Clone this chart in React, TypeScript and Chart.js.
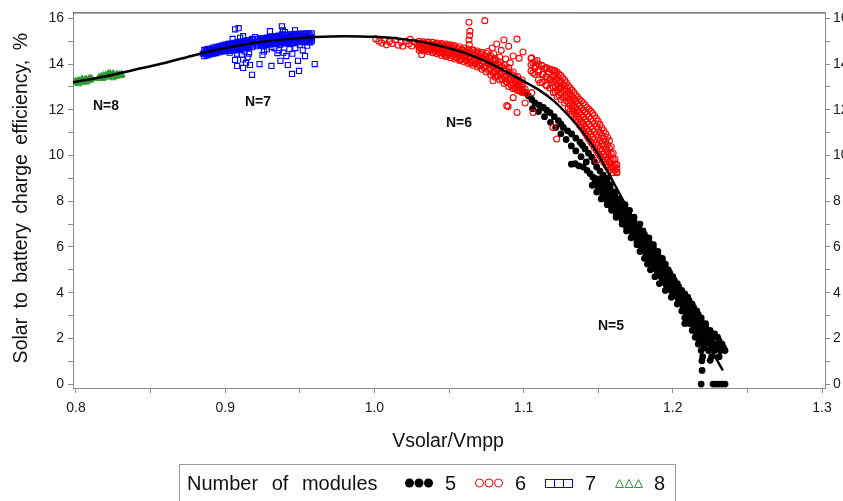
import React, { useEffect, useRef } from 'react';
import { Chart, registerables } from 'chart.js';

Chart.register(...registerables);

// ---- axis ticks ----
const xTickValues = [0.8, 0.85, 0.9, 0.95, 1.0, 1.05, 1.1, 1.15, 1.2, 1.25, 1.3];
const yTickValues = [0, 1, 2, 3, 4, 5, 6, 7, 8, 9, 10, 11, 12, 13, 14, 15, 16];
const xMin = 0.798;
const xMax = 1.302;
const yMin = -0.17;
const yMax = 16.26;

// ---- titles / labels ----
const xTitle = 'Vsolar/Vmpp';
const yTitle = 'Solar to battery charge efficiency, %';
const legendTitle = 'Number of modules';
const legendNames = ['5', '6', '7', '8'];
const groupLabels = ['N=8', 'N=7', 'N=6', 'N=5'];
const groupLabelX = [0.8201, 0.922, 1.0567, 1.1586];
const groupLabelY = [12.14, 12.32, 11.4, 2.52];

// ---- fitted curve ----
const fitCurve: [number, number][] = [
  [0.798, 13.2], [0.82, 13.47], [0.84, 13.76], [0.86, 14.06], [0.88, 14.4], [0.9, 14.7],
  [0.92, 14.93], [0.94, 15.08], [0.96, 15.18], [0.98, 15.22], [1.0, 15.19], [1.02, 15.08],
  [1.04, 14.86], [1.06, 14.5], [1.07, 14.25], [1.08, 13.95], [1.09, 13.6], [1.1, 13.25],
  [1.11, 12.88], [1.12, 12.4], [1.13, 11.75], [1.14, 11.0], [1.15, 10.05], [1.16, 8.85],
  [1.17, 7.65], [1.18, 6.5], [1.19, 5.35], [1.2, 4.2], [1.21, 3.15], [1.22, 2.15], [1.2335, 0.6],
];

// ---- N = 8 (green triangles): scattered points + dense columns [x, y...] ----
const n8Points: [number, number][] = [
  [0.799, 13.15], [0.8, 13.25], [0.801, 13.2], [0.802, 13.3], [0.803, 13.22], [0.804, 13.28],
  [0.805, 13.18], [0.806, 13.35], [0.807, 13.25], [0.808, 13.3], [0.809, 13.4], [0.81, 13.28],
  [0.811, 13.35], [0.804, 13.38], [0.802, 13.12],
  [0.815, 13.38], [0.817, 13.42], [0.818, 13.35], [0.819, 13.48], [0.82, 13.4], [0.821, 13.52],
  [0.822, 13.45], [0.823, 13.55], [0.824, 13.42], [0.825, 13.6], [0.826, 13.5], [0.827, 13.45],
  [0.828, 13.55], [0.829, 13.5], [0.83, 13.48], [0.831, 13.52], [0.822, 13.62], [0.825, 13.38],
];
const n8Columns: number[][] = [
  [0.7995, 13.27, 13.18], [0.801, 13.29, 13.16], [0.8025, 13.27, 13.2], [0.804, 13.32, 13.22],
  [0.8055, 13.3, 13.22], [0.807, 13.36, 13.2], [0.8085, 13.35, 13.25], [0.81, 13.4, 13.3],
  [0.8155, 13.45, 13.35], [0.817, 13.5, 13.38], [0.8185, 13.52, 13.42], [0.82, 13.55, 13.44],
  [0.8215, 13.47, 13.58], [0.823, 13.48, 13.6], [0.8245, 13.52, 13.58], [0.826, 13.55, 13.45],
  [0.8275, 13.58, 13.5], [0.829, 13.56, 13.47], [0.8305, 13.58, 13.5],
];

// ---- N = 7 (blue squares) ----
const n7Points: [number, number][] = [
  [0.885, 14.45], [0.887, 14.55], [0.888, 14.4], [0.89, 14.6], [0.891, 14.48], [0.893, 14.65],
  [0.894, 14.52], [0.896, 14.7], [0.897, 14.58], [0.899, 14.75], [0.9, 14.62], [0.901, 14.8],
  [0.902, 14.68], [0.904, 14.85], [0.905, 14.72], [0.906, 14.9], [0.907, 14.6], [0.908, 14.78],
  [0.909, 14.95], [0.91, 14.7], [0.911, 14.85], [0.912, 15.0], [0.913, 14.75], [0.914, 14.9],
  [0.915, 15.05], [0.916, 14.8], [0.917, 14.95], [0.918, 15.1], [0.903, 14.5], [0.908, 14.45],
  [0.911, 14.4], [0.913, 14.55], [0.915, 14.3], [0.912, 14.2], [0.914, 14.05], [0.916, 14.45],
  [0.91, 15.15], [0.905, 15.1],
  [0.9066, 14.18], [0.908, 13.92], [0.912, 13.83], [0.918, 13.53], [0.9166, 13.96], [0.923, 14.0],
  [0.925, 14.4], [0.931, 13.92], [0.937, 14.14], [0.935, 14.48], [0.942, 13.96], [0.9448, 13.57],
  [0.9495, 13.7], [0.9535, 14.35], [0.96, 14.0], [0.9488, 14.14], [0.9066, 15.52], [0.909, 15.57],
  [0.912, 15.22], [0.938, 15.65], [0.9387, 15.48], [0.9468, 15.48], [0.93, 15.44], [0.92, 15.18],
  [0.922, 14.85], [0.923, 15.0], [0.924, 14.9], [0.925, 15.05], [0.926, 14.8], [0.927, 14.95],
  [0.928, 15.1], [0.929, 14.88], [0.93, 15.02], [0.931, 14.75], [0.932, 15.08], [0.933, 14.92],
  [0.934, 15.15], [0.935, 14.98], [0.936, 15.2], [0.937, 14.85], [0.938, 15.3], [0.939, 15.05],
  [0.94, 15.4], [0.941, 14.95], [0.942, 15.15], [0.943, 15.0], [0.944, 15.25], [0.945, 14.9],
  [0.946, 15.1], [0.947, 15.3], [0.948, 15.0], [0.949, 15.15], [0.95, 15.05], [0.951, 15.25],
  [0.952, 15.1], [0.953, 14.95], [0.954, 15.2], [0.955, 15.05], [0.956, 15.15], [0.957, 14.95],
  [0.958, 15.1], [0.933, 14.7], [0.936, 14.6], [0.939, 14.5], [0.941, 14.35], [0.943, 14.65],
  [0.945, 14.45], [0.947, 14.7], [0.95, 14.85], [0.952, 14.6], [0.955, 14.8], [0.926, 14.55],
  [0.928, 14.65],
];
const n7Columns: number[][] = [
  [0.886, 14.62, 14.48, 14.35], [0.888, 14.65, 14.52, 14.38], [0.89, 14.68, 14.55, 14.42],
  [0.892, 14.72, 14.58, 14.45], [0.894, 14.75, 14.62, 14.48], [0.896, 14.78, 14.65, 14.52],
  [0.898, 14.82, 14.68, 14.55], [0.9, 14.85, 14.7, 14.56], [0.902, 14.88, 14.73, 14.58],
  [0.904, 14.9, 14.76, 14.6], [0.906, 14.93, 14.78, 14.62], [0.908, 14.95, 14.8, 14.64],
  [0.91, 14.98, 14.83, 14.66], [0.912, 15.0, 14.85, 14.68], [0.914, 15.02, 14.87, 14.7],
  [0.916, 15.04, 14.89, 14.72], [0.918, 15.06, 14.91, 14.74], [0.922, 15.1, 14.95, 14.78],
  [0.924, 15.12, 14.97, 14.8], [0.926, 15.14, 14.98, 14.82], [0.928, 15.16, 15.0, 14.84],
  [0.93, 15.18, 15.02, 14.86], [0.932, 15.2, 15.04, 14.88], [0.934, 15.22, 15.05, 14.88],
  [0.936, 15.24, 15.06, 14.9], [0.938, 15.26, 15.07, 14.9], [0.94, 15.28, 15.08, 14.92],
  [0.942, 15.28, 15.1, 14.92], [0.944, 15.3, 15.11, 14.94], [0.946, 15.3, 15.12, 14.95],
  [0.948, 15.32, 15.13, 14.96], [0.95, 15.32, 15.14, 14.97], [0.952, 15.33, 15.15, 14.98],
  [0.954, 15.33, 15.16, 14.98], [0.956, 15.34, 15.16, 15.0], [0.958, 15.34, 15.17, 15.0],
  [0.887, 14.57, 14.43], [0.889, 14.6, 14.47], [0.891, 14.63, 14.5], [0.893, 14.67, 14.53],
  [0.895, 14.7, 14.57], [0.897, 14.73, 14.6], [0.899, 14.77, 14.62], [0.901, 14.8, 14.64],
  [0.903, 14.82, 14.66], [0.905, 14.85, 14.69], [0.907, 14.87, 14.71], [0.909, 14.9, 14.73],
  [0.911, 14.92, 14.75], [0.913, 14.94, 14.77], [0.915, 14.96, 14.79], [0.917, 14.98, 14.81],
  [0.923, 15.04, 14.87], [0.925, 15.06, 14.9], [0.927, 15.08, 14.92], [0.929, 15.1, 14.93],
  [0.931, 15.12, 14.95], [0.933, 15.14, 14.96], [0.935, 15.15, 14.97], [0.937, 15.17, 14.98],
  [0.939, 15.18, 15.0], [0.941, 15.19, 15.0], [0.943, 15.2, 15.02], [0.945, 15.21, 15.03],
  [0.947, 15.22, 15.04], [0.949, 15.23, 15.05], [0.951, 15.24, 15.06], [0.953, 15.25, 15.07],
  [0.955, 15.25, 15.08], [0.957, 15.26, 15.08],
];

// ---- N = 6 (red circles) ----
const n6Points: [number, number][] = [
  [1.001, 15.1], [1.003, 15.0], [1.005, 14.92], [1.007, 15.05], [1.008, 14.84], [1.01, 14.98],
  [1.012, 14.9], [1.014, 15.05], [1.016, 14.82], [1.018, 14.95], [1.019, 14.78], [1.021, 15.0],
  [1.023, 14.88], [1.024, 15.08], [1.025, 14.79], [1.027, 14.95], [1.029, 14.86], [1.03, 15.0],
  [1.031, 14.7], [1.0317, 14.41], [1.033, 14.9], [1.035, 14.78], [1.036, 14.95], [1.038, 14.68],
  [1.039, 14.85], [1.041, 14.9], [1.042, 14.6], [1.043, 14.78], [1.045, 14.88], [1.046, 14.5],
  [1.047, 14.7], [1.048, 14.35], [1.049, 14.82], [1.05, 14.58], [1.051, 14.72], [1.052, 14.45],
  [1.053, 14.8], [1.054, 14.6], [1.055, 14.3], [1.056, 14.68], [1.057, 14.5], [1.058, 14.2],
  [1.059, 14.62], [1.06, 14.4], [1.061, 14.55], [1.062, 14.15], [1.063, 14.48], [1.064, 14.3],
  [1.065, 14.05], [1.066, 14.58], [1.067, 14.38], [1.068, 14.2], [1.069, 14.5], [1.07, 14.0],
  [1.071, 14.3], [1.072, 14.45], [1.073, 14.12], [1.074, 13.9], [1.075, 14.35], [1.076, 14.05],
  [1.077, 13.8], [1.078, 14.25], [1.079, 13.95], [1.08, 13.65], [1.081, 14.15], [1.082, 13.75],
  [1.083, 13.5], [1.084, 13.95], [1.085, 13.6], [1.086, 13.35], [1.087, 13.8], [1.088, 13.45],
  [1.089, 13.2], [1.09, 13.65], [1.091, 13.3], [1.092, 13.05], [1.093, 13.5], [1.094, 12.95],
  [1.095, 13.2], [1.096, 12.85], [1.097, 13.1], [1.098, 12.8], [1.099, 13.0], [1.1, 12.75],
  [1.101, 12.9], [1.102, 12.72],
  [1.0634, 15.83], [1.074, 15.9], [1.064, 15.44], [1.0634, 15.05], [1.0638, 15.25], [1.0636, 14.85],
  [1.0868, 15.05], [1.0956, 15.09], [1.0996, 14.53], [1.079, 14.7], [1.082, 14.88], [1.09, 14.78],
  [1.085, 14.6], [1.093, 14.35], [1.088, 14.22], [1.076, 14.55], [1.08, 14.45], [1.084, 14.3],
  [1.091, 14.05], [1.097, 14.25],
  [1.0896, 12.14], [1.0956, 11.88], [1.0795, 13.27], [1.093, 12.53], [1.101, 12.3], [1.0887, 12.18],
  [1.1063, 11.88], [1.1197, 11.23], [1.1222, 10.72], [1.0954, 13.33], [1.1054, 12.75], [1.1244, 12.97],
  [1.1054, 14.27], [1.1063, 14.05], [1.1063, 13.62], [1.108, 13.9], [1.109, 14.15], [1.11, 13.75],
  [1.111, 13.18], [1.112, 13.95], [1.113, 13.55], [1.114, 13.8], [1.1155, 13.83], [1.1155, 13.05],
  [1.116, 13.4], [1.117, 13.65], [1.118, 13.3], [1.119, 13.75], [1.12, 13.5], [1.121, 13.7],
  [1.1624, 9.28], [1.161, 9.5], [1.149, 9.78],
];
// dense columns [x, y...] of the main N=6 band and the upper-right clump
const n6Columns: number[][] = [
  [1.03, 14.98, 14.85, 14.72, 14.6], [1.033, 14.97, 14.83, 14.7, 14.57], [1.036, 14.96, 14.82, 14.68, 14.55],
  [1.039, 14.95, 14.8, 14.65, 14.5], [1.042, 14.92, 14.76, 14.6, 14.45], [1.045, 14.9, 14.73, 14.55, 14.38],
  [1.048, 14.88, 14.7, 14.5, 14.33], [1.051, 14.84, 14.66, 14.47, 14.28], [1.054, 14.8, 14.62, 14.42, 14.22],
  [1.057, 14.76, 14.56, 14.36, 14.16], [1.06, 14.7, 14.5, 14.3, 14.1], [1.063, 14.66, 14.45, 14.24, 14.03],
  [1.066, 14.62, 14.4, 14.17, 13.95], [1.069, 14.57, 14.35, 14.1, 13.87], [1.072, 14.52, 14.28, 14.02, 13.77],
  [1.075, 14.46, 14.2, 13.92, 13.65], [1.078, 14.36, 14.1, 13.82, 13.53], [1.081, 14.24, 13.98, 13.7, 13.42],
  [1.084, 14.1, 13.84, 13.57, 13.3], [1.087, 13.96, 13.7, 13.43, 13.15], [1.09, 13.85, 13.58, 13.3, 13.02],
  [1.093, 13.65, 13.4, 13.15, 12.92], [1.096, 13.45, 13.22, 13.0, 12.84], [1.099, 13.3, 13.08, 12.9, 12.76],
  [1.0315, 14.9, 14.77, 14.64], [1.0345, 14.9, 14.76, 14.62], [1.0375, 14.88, 14.74, 14.6],
  [1.0405, 14.86, 14.7, 14.55], [1.0435, 14.83, 14.66, 14.5], [1.0465, 14.8, 14.62, 14.44],
  [1.0495, 14.77, 14.58, 14.4], [1.0525, 14.73, 14.54, 14.35], [1.0555, 14.68, 14.48, 14.28],
  [1.0585, 14.62, 14.42, 14.22], [1.0615, 14.57, 14.37, 14.16], [1.0645, 14.53, 14.3, 14.08],
  [1.0675, 14.48, 14.25, 14.02], [1.0705, 14.43, 14.18, 13.93], [1.0735, 14.36, 14.1, 13.84],
  [1.0765, 14.28, 14.0, 13.72], [1.0795, 14.16, 13.88, 13.6], [1.0825, 14.03, 13.76, 13.48],
  [1.0855, 13.9, 13.62, 13.35], [1.0885, 13.76, 13.5, 13.22], [1.0915, 13.6, 13.35, 13.1],
  [1.0945, 13.42, 13.18, 12.95], [1.0975, 13.25, 13.04, 12.85],
  [1.105, 14.25, 13.98, 13.7], [1.1075, 14.1, 13.82, 13.55], [1.11, 14.0, 13.65, 13.3],
  [1.1125, 13.92, 13.55, 13.2], [1.115, 13.85, 13.45, 13.08], [1.1175, 13.78, 13.35, 12.95],
  [1.12, 13.72, 13.45, 13.22, 12.98, 12.75], [1.1225, 13.65, 13.38, 13.12, 12.85, 12.58],
  [1.125, 13.5, 13.25, 12.98, 12.72, 12.45], [1.1275, 13.3, 13.05, 12.8, 12.55, 12.3],
  [1.13, 13.05, 12.8, 12.55, 12.3, 12.05], [1.1325, 12.85, 12.6, 12.32, 12.06, 11.8],
  [1.135, 12.65, 12.38, 12.1, 11.82, 11.55], [1.1375, 12.45, 12.17, 11.88, 11.6, 11.32],
  [1.14, 12.3, 12.0, 11.7, 11.4, 11.1], [1.1425, 12.1, 11.8, 11.48, 11.16, 10.85],
  [1.145, 11.95, 11.6, 11.27, 10.93, 10.6], [1.1475, 11.75, 11.4, 11.05, 10.7, 10.35],
  [1.15, 11.5, 11.15, 10.8, 10.45, 10.1], [1.1525, 11.2, 10.86, 10.52, 10.18, 9.85],
  [1.155, 10.95, 10.6, 10.27, 9.93, 9.6], [1.1575, 10.65, 10.32, 10.0, 9.68, 9.35],
  [1.16, 10.1, 9.82, 9.54, 9.25], [1.1625, 9.6, 9.42, 9.25],
  [1.12125, 13.6, 13.32, 13.05, 12.78], [1.12375, 13.55, 13.25, 12.95, 12.65],
  [1.12625, 13.4, 13.12, 12.85, 12.55], [1.12875, 13.18, 12.92, 12.66, 12.4],
  [1.13125, 12.95, 12.7, 12.44, 12.18, 11.95], [1.13375, 12.75, 12.48, 12.2, 11.93, 11.68],
  [1.13625, 12.55, 12.27, 11.98, 11.7, 11.45], [1.13875, 12.38, 12.08, 11.78, 11.48, 11.22],
  [1.14125, 12.2, 11.9, 11.58, 11.27, 10.98], [1.14375, 12.02, 11.7, 11.37, 11.05, 10.72],
  [1.14625, 11.85, 11.5, 11.15, 10.8, 10.48], [1.14875, 11.62, 11.27, 10.92, 10.57, 10.22],
  [1.15125, 11.35, 11.0, 10.65, 10.3, 9.98], [1.15375, 11.08, 10.73, 10.4, 10.05, 9.72],
  [1.15625, 10.8, 10.46, 10.13, 9.8, 9.48], [1.15875, 10.38, 10.08, 9.78, 9.48],
  [1.16125, 9.85, 9.6, 9.35],
];

// ---- N = 5 (black dots) ----
const n5Points: [number, number][] = [
  [1.1005, 12.78], [1.1032, 12.61], [1.1055, 12.45], [1.1076, 12.3], [1.1105, 12.2], [1.1132, 12.1],
  [1.1155, 11.98], [1.1177, 11.88], [1.1205, 11.7], [1.1233, 11.52], [1.125, 11.38], [1.1266, 11.23],
  [1.1295, 11.08], [1.1322, 10.94], [1.135, 10.76], [1.1378, 10.58], [1.1395, 10.44], [1.1412, 10.29],
  [1.1435, 10.1], [1.1456, 9.93], [1.1475, 9.72], [1.149, 9.5], [1.1512, 9.32], [1.1534, 9.14],
  [1.106, 12.05], [1.11, 11.92], [1.114, 11.7], [1.118, 11.45], [1.1215, 11.22], [1.125, 10.95],
  [1.1285, 10.7], [1.132, 10.42], [1.135, 10.2], [1.1385, 9.95], [1.142, 9.72],
  [1.132, 9.62], [1.1345, 9.64], [1.137, 9.55], [1.14, 9.5], [1.1425, 9.35], [1.1445, 9.21], [1.1465, 9.05],
  [1.2195, 1.02], [1.225, 1.04], [1.2196, 0.6],
  [1.219, 0.0], [1.227, 0.0], [1.229, 0.0], [1.231, 0.0], [1.233, 0.0], [1.235, 0.0],
];
// dense rows [y, x...] of the descending N=5 band
const n5Rows: number[][] = [
  [9.0, 1.148, 1.152, 1.156], [8.85, 1.148, 1.152, 1.156], [8.7, 1.146, 1.15, 1.154, 1.158],
  [8.55, 1.15, 1.154, 1.158], [8.4, 1.149, 1.153, 1.157, 1.161], [8.25, 1.153, 1.157, 1.161],
  [8.1, 1.152, 1.156, 1.16, 1.164], [7.98, 1.156, 1.16, 1.164], [7.85, 1.156, 1.16, 1.164, 1.168],
  [7.72, 1.159, 1.163, 1.167], [7.6, 1.159, 1.163, 1.167, 1.171], [7.45, 1.162, 1.166, 1.17],
  [7.3, 1.162, 1.166, 1.17, 1.174], [7.15, 1.166, 1.17, 1.174], [7.0, 1.166, 1.17, 1.174, 1.178],
  [6.85, 1.169, 1.173, 1.177], [6.7, 1.169, 1.173, 1.177, 1.18], [6.55, 1.173, 1.177, 1.181],
  [6.4, 1.172, 1.176, 1.18, 1.184], [6.25, 1.176, 1.18, 1.184], [6.1, 1.176, 1.18, 1.184, 1.187],
  [5.95, 1.179, 1.183, 1.187], [5.8, 1.178, 1.182, 1.186, 1.19], [5.65, 1.182, 1.186, 1.19],
  [5.5, 1.181, 1.185, 1.189, 1.193], [5.38, 1.185, 1.189, 1.193], [5.25, 1.183, 1.187, 1.191, 1.195],
  [5.12, 1.187, 1.191, 1.195], [5.0, 1.185, 1.189, 1.193, 1.197], [4.85, 1.19, 1.194, 1.198],
  [4.7, 1.188, 1.192, 1.196, 1.2], [4.55, 1.193, 1.197, 1.201], [4.4, 1.191, 1.195, 1.199, 1.203],
  [4.25, 1.196, 1.2, 1.204], [4.1, 1.195, 1.199, 1.203, 1.206], [3.95, 1.2, 1.204, 1.208],
  [3.8, 1.199, 1.203, 1.207, 1.21], [3.65, 1.204, 1.208, 1.211], [3.5, 1.203, 1.207, 1.21, 1.213],
  [3.35, 1.207, 1.211, 1.214], [3.2, 1.206, 1.21, 1.213, 1.216], [3.05, 1.209, 1.213, 1.217],
  [2.9, 1.208, 1.212, 1.216, 1.219], [2.78, 1.211, 1.215, 1.219], [2.65, 1.208, 1.211, 1.214, 1.218, 1.222],
  [2.5, 1.214, 1.218, 1.222], [2.35, 1.213, 1.217, 1.221, 1.225], [2.2, 1.216, 1.22, 1.224, 1.228],
  [2.05, 1.215, 1.219, 1.223, 1.227, 1.23], [1.9, 1.218, 1.222, 1.226, 1.231],
  [1.75, 1.217, 1.221, 1.225, 1.229, 1.233], [1.6, 1.221, 1.226, 1.23, 1.234],
  [1.47, 1.219, 1.224, 1.228, 1.232, 1.235], [1.2, 1.22, 1.226, 1.231],
];

const FONT = '"Liberation Sans", Arial, Helvetica, sans-serif';
const AXIS_GRAY = '#8c8c8c';
const RED = '#ff0000';
const BLUE = '#0000ff';
const GREEN = '#2f9a2f';

const toXY = (pts: [number, number][]) => pts.map(([x, y]) => ({ x, y }));
const fromColumns = (cols: number[][]) =>
  cols.flatMap(([x, ...ys]) => ys.map((y) => ({ x, y })));
const fromRows = (rows: number[][]) =>
  rows.flatMap(([y, ...xs]) => xs.map((x) => ({ x, y })));

const decorPlugin = {
  id: 'decor',
  afterDraw(chart: any) {
    const { ctx, chartArea, scales } = chart;
    const { left, right, top, bottom } = chartArea;
    ctx.save();
    ctx.strokeStyle = '#333';
    ctx.lineWidth = 1;
    ctx.beginPath();
    ctx.moveTo(left, top + 0.5);
    ctx.lineTo(right, top + 0.5);
    ctx.stroke();

    ctx.fillStyle = '#111';
    ctx.font = `19.5px ${FONT}`;
    ctx.textAlign = 'center';
    ctx.textBaseline = 'middle';
    ctx.fillText(xTitle, (left + right) / 2 - 1, 442);

    ctx.save();
    ctx.translate(22, (top + bottom) / 2 - 2);
    ctx.rotate(-Math.PI / 2);
    try { (ctx as any).wordSpacing = '4px'; } catch (e) { /* ignore */ }
    ctx.font = `19.5px ${FONT}`;
    ctx.fillText(yTitle, 0, 0);
    ctx.restore();

    ctx.font = `bold 14px ${FONT}`;
    ctx.fillStyle = '#111';
    groupLabels.forEach((t, i) => {
      const px = scales.x.getPixelForValue(groupLabelX[i]);
      const py = scales.y.getPixelForValue(groupLabelY[i]);
      ctx.fillText(t, px, py);
    });
    ctx.restore();
  },
};

function LegendMarker({ kind }: { kind: number }) {
  const w = 29;
  const h = 10;
  if (kind === 0) {
    return (
      <svg width={w} height={h} style={{ display: 'block' }}>
        {[4.5, 14, 23.5].map((cx) => (
          <circle key={cx} cx={cx} cy={5} r={4.5} fill="#000" />
        ))}
      </svg>
    );
  }
  if (kind === 1) {
    return (
      <svg width={w} height={h} style={{ display: 'block' }}>
        {[4.5, 14, 23.5].map((cx) => (
          <circle key={cx} cx={cx} cy={5} r={4} fill="none" stroke={RED} strokeWidth={1} />
        ))}
      </svg>
    );
  }
  if (kind === 2) {
    return (
      <svg width={w} height={h} style={{ display: 'block' }}>
        {[0.5, 9.5, 18.5].map((x) => (
          <rect key={x} x={x} y={1.5} width={9} height={8} fill="none" stroke={BLUE} strokeWidth={1} />
        ))}
      </svg>
    );
  }
  return (
    <svg width={w} height={h} style={{ display: 'block' }}>
      {[0.5, 10, 19.5].map((x) => (
        <polygon key={x} points={`${x},9.5 ${x + 8},9.5 ${x + 4},1.5`} fill="none" stroke={GREEN} strokeWidth={1} />
      ))}
    </svg>
  );
}

export default function App() {
  const canvasRef = useRef<HTMLCanvasElement | null>(null);

  useEffect(() => {
    if (!canvasRef.current) return;
    const tickFont = { family: FONT, size: 14 };
    const yTickCb = (v: any) => (Number(v) % 2 === 0 ? String(v) : '');
    const chart = new Chart(canvasRef.current, {
      type: 'scatter',
      data: {
        datasets: [
          {
            label: 'fit',
            data: toXY(fitCurve),
            showLine: true,
            borderColor: '#000',
            borderWidth: 2.5,
            pointRadius: 0,
            cubicInterpolationMode: 'monotone',
            fill: false,
            order: 0,
          } as any,
          {
            label: legendNames[1],
            data: [...toXY(n6Points), ...fromColumns(n6Columns)],
            pointStyle: 'circle',
            pointRadius: 3,
            backgroundColor: 'rgba(0,0,0,0)',
            borderColor: RED,
            borderWidth: 1.1,
            order: 1,
          },
          {
            label: legendNames[0],
            data: [...toXY(n5Points), ...fromRows(n5Rows)],
            pointStyle: 'circle',
            pointRadius: 3.4,
            backgroundColor: '#000',
            borderColor: '#000',
            borderWidth: 0,
            order: 2,
          },
          {
            label: legendNames[2],
            data: [...toXY(n7Points), ...fromColumns(n7Columns)],
            pointStyle: 'rect',
            pointRadius: 3.6,
            backgroundColor: 'rgba(0,0,0,0)',
            borderColor: BLUE,
            borderWidth: 1.1,
            order: 3,
          },
          {
            label: legendNames[3],
            data: [...toXY(n8Points), ...fromColumns(n8Columns)],
            pointStyle: 'triangle',
            pointRadius: 3,
            backgroundColor: 'rgba(0,0,0,0)',
            borderColor: GREEN,
            borderWidth: 1.1,
            order: 4,
          },
        ],
      },
      options: {
        responsive: false,
        devicePixelRatio: 1,
        animation: false,
        events: [],
        layout: { padding: { top: 9, left: 0, right: 0, bottom: 0 } },
        plugins: {
          legend: { display: false },
          tooltip: { enabled: false },
          title: { display: false },
        },
        scales: {
          x: {
            type: 'linear',
            position: 'bottom',
            min: xMin,
            max: xMax,
            afterFit: (s: any) => { s.height = 113; },
            afterBuildTicks: (s: any) => { s.ticks = xTickValues.map((v) => ({ value: v })); },
            ticks: {
              font: tickFont,
              color: '#1a1a1a',
              padding: 7,
              maxRotation: 0,
              autoSkip: false,
              callback: (v: any) => {
                const n = Number(v);
                return Math.abs(n * 10 - Math.round(n * 10)) < 1e-6 ? n.toFixed(1) : '';
              },
            },
            grid: { drawOnChartArea: false, drawTicks: true, tickLength: 5, color: AXIS_GRAY },
            border: { display: true, color: AXIS_GRAY, width: 1 },
          },
          y: {
            type: 'linear',
            position: 'left',
            min: yMin,
            max: yMax,
            afterFit: (s: any) => { s.width = 73; },
            afterBuildTicks: (s: any) => { s.ticks = yTickValues.map((v) => ({ value: v })); },
            ticks: { font: tickFont, color: '#1a1a1a', padding: 4, autoSkip: false, callback: yTickCb },
            grid: { drawOnChartArea: false, drawTicks: true, tickLength: 5, color: AXIS_GRAY },
            border: { display: true, color: AXIS_GRAY, width: 1 },
          },
          y2: {
            type: 'linear',
            position: 'right',
            min: yMin,
            max: yMax,
            afterFit: (s: any) => { s.width = 18; },
            afterBuildTicks: (s: any) => { s.ticks = yTickValues.map((v) => ({ value: v })); },
            ticks: { font: tickFont, color: '#1a1a1a', padding: 3, autoSkip: false, callback: yTickCb },
            grid: { drawOnChartArea: false, drawTicks: true, tickLength: 5, color: AXIS_GRAY },
            border: { display: true, color: AXIS_GRAY, width: 1 },
          },
        },
      } as any,
      plugins: [decorPlugin],
    });
    return () => chart.destroy();
  }, []);

  const textStyle: React.CSSProperties = {
    position: 'absolute',
    top: 471,
    lineHeight: '24px',
    fontSize: 20,
    fontFamily: FONT,
    color: '#111',
    whiteSpace: 'nowrap',
  };
  const markerX = [405, 475, 545, 615];
  const numX = [445, 515, 585, 654];

  return (
    <div style={{ position: 'absolute', left: 0, top: 0, width: 843, height: 501, overflow: 'hidden', background: '#fff' }}>
      <canvas ref={canvasRef} width={843} height={501} style={{ display: 'block', width: 843, height: 501 }} />
      <div
        style={{
          position: 'absolute',
          left: 179,
          top: 464,
          width: 497,
          height: 50,
          border: '1px solid #999',
          boxSizing: 'border-box',
        }}
      />
      <div style={{ ...textStyle, left: 187, wordSpacing: 8 }}>{legendTitle}</div>
      {legendNames.map((n, i) => (
        <React.Fragment key={n}>
          <div style={{ position: 'absolute', left: markerX[i], top: 478 }}>
            <LegendMarker kind={i} />
          </div>
          <div style={{ ...textStyle, left: numX[i] }}>{n}</div>
        </React.Fragment>
      ))}
    </div>
  );
}
